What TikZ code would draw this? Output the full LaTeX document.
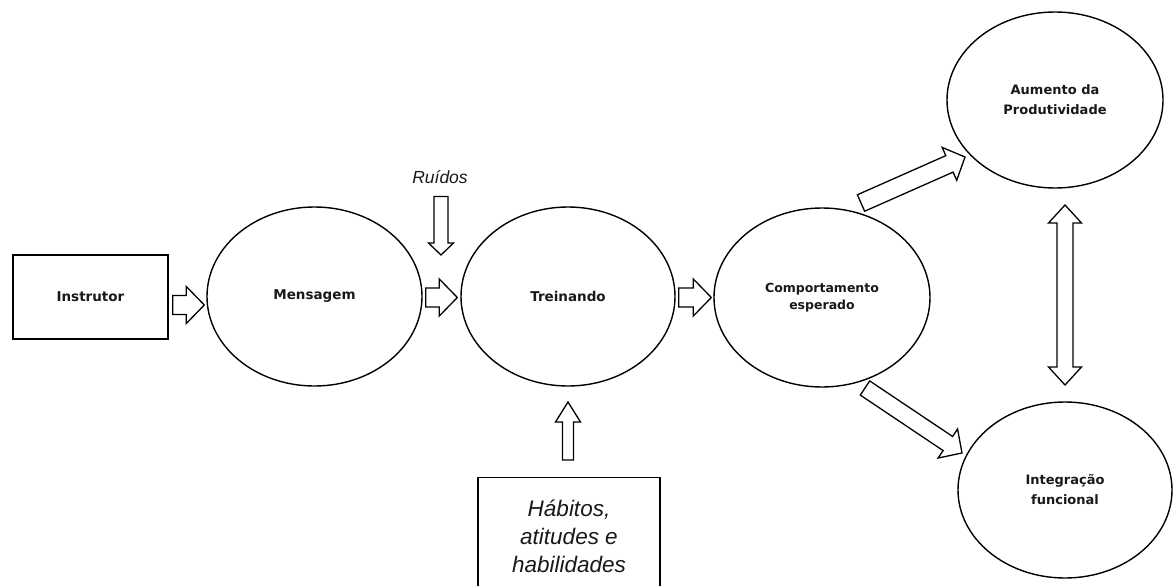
\documentclass[tikz,border=0pt]{standalone}
\usepackage{fontspec}
\setmainfont{Liberation Sans}
\newfontfamily\lblfont{DejaVu Sans}
\usetikzlibrary{shapes.geometric,calc}
% block arrow from tail #1 to tip #2: body half-width #3, head half-width #4, head length #5
\newcommand\bArrow[5]{%
  \draw[barrow] let \p1=(#1), \p2=(#2),
    \n1={atan2(\y2-\y1,\x2-\x1)}, \n2={veclen(\x2-\x1,\y2-\y1)} in
    [shift={(\x1,\y1)}, rotate=\n1]
    (0pt,#3pt) -- (\n2-#5pt,#3pt) -- (\n2-#5pt,#4pt) -- (\n2,0pt)
    -- (\n2-#5pt,-#4pt) -- (\n2-#5pt,-#3pt) -- (0pt,-#3pt) -- cycle;}
% double block arrow between tips #1 and #2
\newcommand\dArrow[5]{%
  \draw[barrow] let \p1=(#1), \p2=(#2),
    \n1={atan2(\y2-\y1,\x2-\x1)}, \n2={veclen(\x2-\x1,\y2-\y1)} in
    [shift={(\x1,\y1)}, rotate=\n1]
    (0pt,0pt) -- (#5pt,#4pt) -- (#5pt,#3pt) -- (\n2-#5pt,#3pt) -- (\n2-#5pt,#4pt)
    -- (\n2,0pt) -- (\n2-#5pt,-#4pt) -- (\n2-#5pt,-#3pt) -- (#5pt,-#3pt)
    -- (#5pt,-#4pt) -- cycle;}
\begin{document}
\begin{tikzpicture}[x=1pt,y=-1pt,
  line width=1.4pt,
  lbl/.style={font=\lblfont\bfseries\fontsize{13.5}{20}\selectfont, align=center, text=black!90},
  oval/.style={ellipse, draw, inner sep=0pt},
  box/.style={rectangle, draw, inner sep=0pt},
  barrow/.style={draw, fill=white, line width=1.3pt, line join=miter}
]
\clip (0,0) rectangle (1173,586);
\fill[white] (0,0) rectangle (1173,586);

% main nodes
\node[box, lbl, minimum width=155pt, minimum height=84pt] (ins) at (90.5,297) {Instrutor};
\node[oval, lbl, minimum width=215pt, minimum height=179pt] (msg) at (314.5,296.5) {Mensagem};
\node[oval, lbl, minimum width=214pt, minimum height=179pt] (trn) at (568,296.5) {Treinando};
\node[oval, lbl, font=\lblfont\bfseries\fontsize{12.5}{17}\selectfont, minimum width=216pt, minimum height=179pt] (cmp) at (822,297.5) {Comportamento\\esperado};
\node[oval, lbl, font=\lblfont\bfseries\fontsize{13}{20}\selectfont, minimum width=216pt, minimum height=176pt] (aum) at (1055,100) {Aumento da\\Produtividade};
\node[oval, lbl, font=\lblfont\bfseries\fontsize{13}{20}\selectfont, minimum width=214pt, minimum height=176pt] (int) at (1065,490) {Integração\\funcional};
\node[box, minimum width=182pt, minimum height=118pt, anchor=north, align=center,
      font=\itshape\fontsize{22.5}{28}\selectfont, text=black!90] (hab) at (569,477) {Hábitos,\\atitudes e\\habilidades};
\node[font=\itshape\fontsize{17.5}{20}\selectfont, text=black!90] (rui) at (440,177) {Ruídos};

% arrow end points, taken from the nodes
\coordinate (t1) at ($(ins.east)+(4,8)$);   \coordinate (h1) at ($(msg.west)+(-2,8.5)$);
\coordinate (t2) at ($(msg.east)+(3,1)$);   \coordinate (h2) at ($(trn.west)+(-3,1)$);
\coordinate (t3) at ($(trn.east)+(3,1)$);   \coordinate (h3) at ($(cmp.west)+(-2,0)$);
\coordinate (t4) at ($(rui.south)+(1,9)$);  \coordinate (h4) at (441,255);
\coordinate (t5) at ($(hab.north)+(-1,-17)$); \coordinate (h5) at (568,402);
\coordinate (t6) at (861,203);              \coordinate (h6) at (965,157);
\coordinate (t7) at (865,388);              \coordinate (h7) at (962,453);
\coordinate (t8) at (1065,205);             \coordinate (h8) at (1065,385);

\bArrow{t1}{h1}{9.5}{18.5}{18}
\bArrow{t2}{h2}{9.5}{18.5}{18}
\bArrow{t3}{h3}{9.5}{18.5}{18}
\bArrow{t4}{h4}{7}{12.5}{12}
\bArrow{t5}{h5}{5.5}{12.5}{20}
\bArrow{t6}{h6}{9}{18}{17}
\bArrow{t7}{h7}{8.5}{17.5}{17}
\dArrow{t8}{h8}{8}{16.5}{18}
\end{tikzpicture}
\end{document}
